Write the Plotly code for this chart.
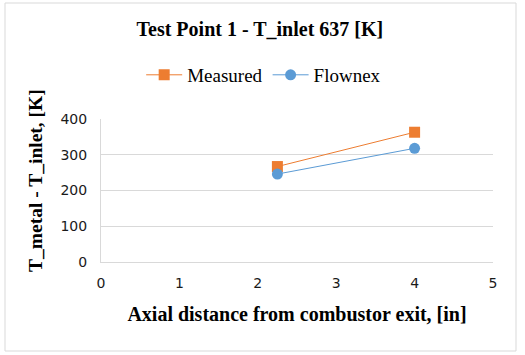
import plotly.graph_objects as go

x_vals = [2.25, 4.0]
measured = [267, 363]
flownex = [246, 318]
x_ticks = [0, 1, 2, 3, 4, 5]
y_ticks = [0, 100, 200, 300, 400]

serif = "Liberation Serif"
sans = "DejaVu Sans"

fig = go.Figure()
fig.add_trace(go.Scatter(
    x=x_vals, y=measured, name="Measured", mode="lines+markers",
    line=dict(color="#ED7D31", width=1),
    marker=dict(symbol="square", size=11, color="#ED7D31"),
))
fig.add_trace(go.Scatter(
    x=x_vals, y=flownex, name="Flownex", mode="lines+markers",
    line=dict(color="#5B9BD5", width=1),
    marker=dict(symbol="circle", size=11, color="#5B9BD5"),
))

fig.update_layout(
    width=525, height=355,
    margin=dict(l=101, r=32, t=119, b=93, autoexpand=False),
    paper_bgcolor="white", plot_bgcolor="white",
    showlegend=True,
    legend=dict(orientation="h", x=0.415, xanchor="center", y=1.308, yanchor="middle",
                font=dict(family=serif, size=19, color="black"),
                itemwidth=36, tracegroupgap=0),
    title=dict(text="<b>Test Point 1 - T_inlet 637 [K]</b>", x=0.495, xanchor="center",
               y=0.918, yanchor="middle",
               font=dict(family=serif, size=20, color="black")),
    xaxis=dict(range=[0, 5], tickvals=x_ticks, showgrid=False, zeroline=False,
               showline=True, linecolor="#d9d9d9", linewidth=1, ticks="",
               ticklabelstandoff=8, automargin=False,
               tickfont=dict(family=sans, size=14, color="#1a1a1a"),
               title=dict(text="<b>Axial distance from combustor exit, [in]</b>",
                          font=dict(family=serif, size=20, color="black"), standoff=17)),
    yaxis=dict(range=[0, 400], tickvals=y_ticks, showgrid=True, gridcolor="#d9d9d9",
               zeroline=False, showline=True, linecolor="#d9d9d9", linewidth=1, ticks="",
               ticklabelstandoff=10, automargin=False,
               tickfont=dict(family=sans, size=14, color="#1a1a1a")),
)

# y-axis title placed as rotated annotation to match reference position
fig.add_annotation(text="<b>T_metal - T_inlet, [K]</b>", textangle=-90,
                   xref="paper", yref="paper",
                   x=(35 - 101) / 392, y=(262 - 181) / 143,
                   xanchor="center", yanchor="middle", showarrow=False,
                   font=dict(family=serif, size=19.5, color="black"))

fig.add_shape(type="rect", xref="paper", yref="paper",
              x0=(5 - 101) / 392, x1=(516 - 101) / 392,
              y0=(262 - 351) / 143, y1=(262 - 3) / 143,
              line=dict(color="#d9d9d9", width=1), fillcolor="rgba(0,0,0,0)", layer="below")

fig.write_html("out.html", config={"displayModeBar": False},
               post_script="document.body.style.margin='0';document.body.style.overflow='hidden';")
